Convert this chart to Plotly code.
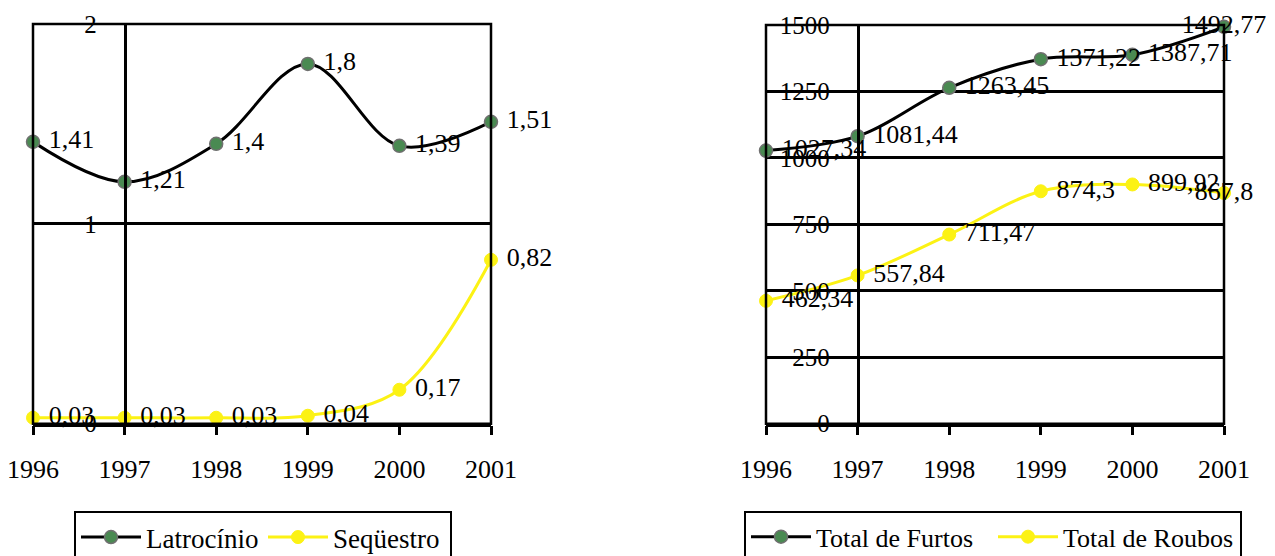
import plotly.graph_objects as go

years = [1996, 1997, 1998, 1999, 2000, 2001]
year_labels = ["1996", "1997", "1998", "1999", "2000", "2001"]

latrocinio = [1.41, 1.21, 1.4, 1.8, 1.39, 1.51]
sequestro = [0.03, 0.03, 0.03, 0.04, 0.17, 0.82]

furtos = [1027.34, 1081.44, 1263.45, 1371.22, 1387.71, 1492.77]
roubos = [462.34, 557.84, 711.47, 874.3, 899.92, 867.8]


def br(vals, pad=True):
    lead = "\u00a0" if pad else ""
    return [lead + ("%g" % v).replace(".", ",") for v in vals]


W, H = 1275, 556
OFF = 8  # page body margin
FONT = "Liberation Serif"
GREEN = "#4a8a52"
YELLOW = "#fcf214"

# pixel geometry (in screenshot pixels)
L_x0, L_x1 = 33, 491
R_x0, R_x1 = 766, 1224
L_ytop, R_ytop, ybot = 24, 25, 426


def px_x(p):
    return (p - OFF) / W


def px_y(p):
    return (H - (p - OFF)) / H


fig = go.Figure()

label_font = dict(family=FONT, size=26, color="black")


def right_labels(vals):
    t = br(vals)
    t[-1] = t[-1].strip("\u00a0")
    return t


fig.add_trace(go.Scatter(
    x=years, y=latrocinio, name="Latrocínio", mode="lines+markers+text",
    text=br(latrocinio), textposition="middle right", textfont=label_font,
    line=dict(color="black", width=3, shape="spline"),
    marker=dict(size=13, color=GREEN, line=dict(color="#707070", width=1.5)),
    cliponaxis=False, xaxis="x", yaxis="y", legend="legend"))
fig.add_trace(go.Scatter(
    x=years, y=sequestro, name="Seqüestro", mode="lines+markers+text",
    text=br(sequestro), textposition="middle right", textfont=label_font,
    line=dict(color=YELLOW, width=3, shape="spline"),
    marker=dict(size=13, color=YELLOW, line=dict(color=YELLOW, width=1)),
    cliponaxis=False, xaxis="x", yaxis="y", legend="legend"))

right_pos = ["middle right"] * 5 + ["middle center"]
fig.add_trace(go.Scatter(
    x=years, y=furtos, name="Total de Furtos", mode="lines+markers+text",
    text=right_labels(furtos), textposition=right_pos, textfont=label_font,
    line=dict(color="black", width=3, shape="spline"),
    marker=dict(size=13, color=GREEN, line=dict(color="#707070", width=1.5)),
    cliponaxis=False, xaxis="x2", yaxis="y2", legend="legend2"))
fig.add_trace(go.Scatter(
    x=years, y=roubos, name="Total de Roubos", mode="lines+markers+text",
    text=right_labels(roubos), textposition=right_pos, textfont=label_font,
    line=dict(color=YELLOW, width=3, shape="spline"),
    marker=dict(size=13, color=YELLOW, line=dict(color=YELLOW, width=1)),
    cliponaxis=False, xaxis="x2", yaxis="y2", legend="legend2"))

xcommon = dict(range=[1996, 2001], tickvals=years, ticktext=year_labels,
               ticks="outside", ticklen=9, tickwidth=2.5, tickcolor="black",
               showline=True, linecolor="black", linewidth=2.5,
               showgrid=False, zeroline=False, automargin=False,
               ticklabeloverflow="allow",
               tickfont=dict(family=FONT, size=26, color="black"),
               ticklabelstandoff=11)
ycommon = dict(showgrid=True, gridcolor="black", gridwidth=2.5,
               showline=True, linecolor="black", linewidth=2.5,
               ticks="", zeroline=False, anchor="free", automargin=False,
               ticklabeloverflow="allow",
               tickfont=dict(family=FONT, size=25, color="black"),
               ticklabelstandoff=22)

legcommon = dict(orientation="h", xanchor="left", yanchor="top",
                 bordercolor="black", borderwidth=2, bgcolor="white",
                 y=px_y(514), itemwidth=60)

fig.update_layout(
    template="none",
    width=W, height=H, margin=dict(l=0, r=0, t=0, b=0),
    paper_bgcolor="white", plot_bgcolor="white",
    xaxis=dict(domain=[px_x(L_x0), px_x(L_x1)], anchor="y", **xcommon),
    yaxis=dict(domain=[px_y(ybot), px_y(L_ytop)], range=[0, 2], dtick=1,
               position=px_x(L_x0 + (L_x1 - L_x0) / 5), **ycommon),
    xaxis2=dict(domain=[px_x(R_x0), px_x(R_x1)], anchor="y2", **xcommon),
    yaxis2=dict(domain=[px_y(ybot), px_y(R_ytop)], range=[0, 1500], dtick=250,
                position=px_x(R_x0 + (R_x1 - R_x0) / 5), **ycommon),
    legend=dict(x=px_x(74), entrywidth=112,
                font=dict(family=FONT, size=27, color="black"), **legcommon),
    legend2=dict(x=px_x(744), entrywidth=172,
                 font=dict(family=FONT, size=26, color="black"), **legcommon),
    showlegend=True,
    shapes=[
        dict(type="rect", xref="x domain", yref="y domain", x0=0, x1=1, y0=0, y1=1,
             line=dict(color="black", width=2.5)),
        dict(type="rect", xref="x2 domain", yref="y2 domain", x0=0, x1=1, y0=0, y1=1,
             line=dict(color="black", width=2.5)),
    ],
)

fig.write_html("out.html")
